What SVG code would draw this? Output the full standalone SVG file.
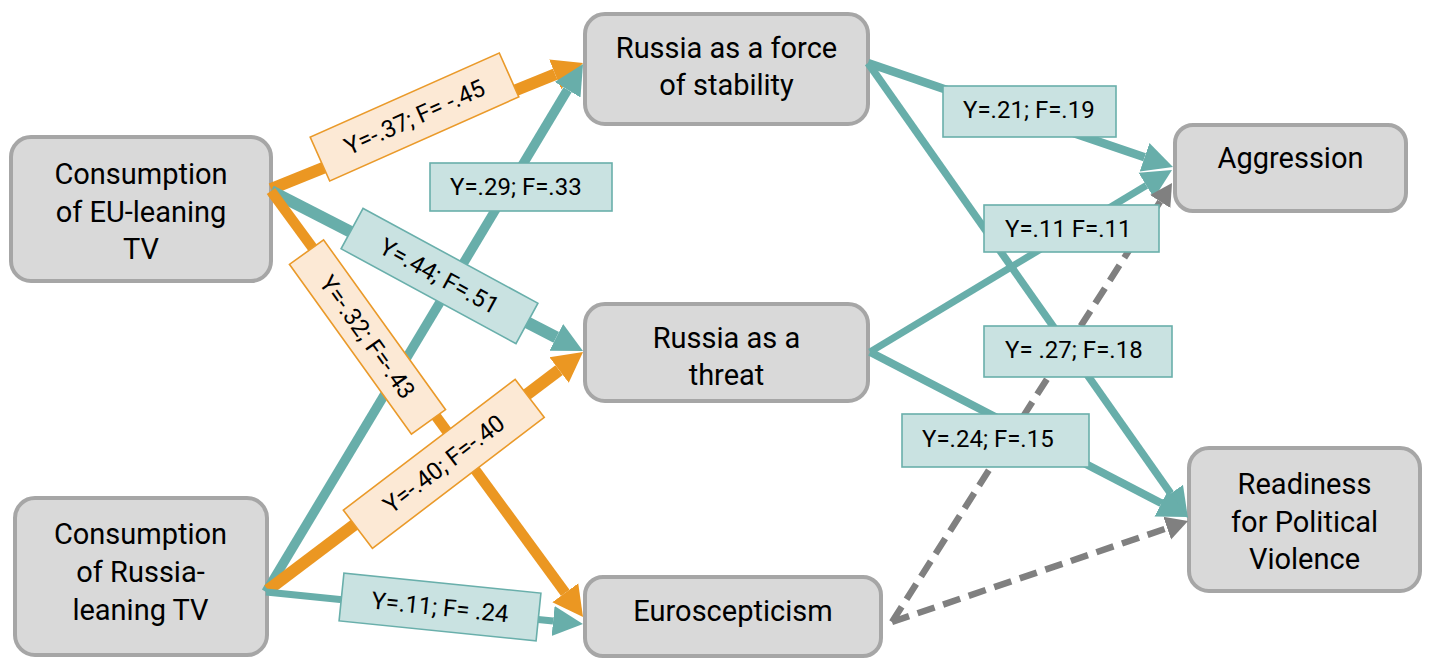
<svg xmlns="http://www.w3.org/2000/svg" width="1431" height="660" viewBox="0 0 1431 660">
  <style>
    .node rect { fill: #d9d9d9; stroke: #a6a6a6; stroke-width: 4; }
    .node text { font-family: Roboto, "Liberation Sans", sans-serif; font-size: 29px; fill: #000; text-anchor: middle; }
    .lbl text { font-family: Roboto, "Liberation Sans", sans-serif; font-size: 24px; fill: #000; }
    .lbl .c { text-anchor: middle; }
    .lo rect { fill: #fce9d5; stroke: #ea9a2a; stroke-width: 1.6; }
    .lt rect { fill: #c9e2e1; stroke: #69afab; stroke-width: 1.6; }
    .or { stroke: #eb9722; fill: none; marker-end: url(#ahO); }
    .te { stroke: #68aeaa; fill: none; marker-end: url(#ahT); }
    .gr { stroke: #808080; fill: none; stroke-width: 6.5; stroke-dasharray: 18 9; marker-end: url(#ahG); }
  </style>
  <defs>
    <marker id="ahO" markerUnits="userSpaceOnUse" markerWidth="34" markerHeight="34" refX="0" refY="17" orient="auto">
      <path d="M0,1 L30,17 L0,33 z" fill="#eb9722"/>
    </marker>
    <marker id="ahT" markerUnits="userSpaceOnUse" markerWidth="34" markerHeight="34" refX="0" refY="17" orient="auto">
      <path d="M0,2 L30,17 L0,32 z" fill="#68aeaa"/>
    </marker>
    <marker id="ahG" markerUnits="userSpaceOnUse" markerWidth="26" markerHeight="26" refX="0" refY="13" orient="auto">
      <path d="M0,1 L22,13 L0,25 z" fill="#808080"/>
    </marker>
  </defs>

  <!-- nodes -->
  <g id="eu-tv" class="node">
    <rect x="11" y="137" width="260" height="144" rx="20"/>
    <text x="141" y="184">Consumption</text>
    <text x="141" y="221.5">of EU-leaning</text>
    <text x="141" y="259">TV</text>
  </g>
  <g id="ru-tv" class="node">
    <rect x="15" y="498" width="252" height="157" rx="20"/>
    <text x="140.5" y="544">Consumption</text>
    <text x="140.5" y="582">of Russia-</text>
    <text x="140.5" y="620">leaning TV</text>
  </g>
  <g id="stability" class="node">
    <rect x="585" y="14" width="283" height="110" rx="20"/>
    <text x="726.5" y="58">Russia as a force</text>
    <text x="726.5" y="95">of stability</text>
  </g>
  <g id="threat" class="node">
    <rect x="585" y="304" width="283" height="97" rx="20"/>
    <text x="726.5" y="348">Russia as a</text>
    <text x="726.5" y="385">threat</text>
  </g>
  <g id="euroscepticism" class="node">
    <rect x="585" y="577" width="296" height="79" rx="18"/>
    <text x="733" y="621">Euroscepticism</text>
  </g>
  <g id="aggression" class="node">
    <rect x="1175" y="125" width="231" height="86" rx="18"/>
    <text x="1290.5" y="168">Aggression</text>
  </g>
  <g id="readiness" class="node">
    <rect x="1189" y="448" width="231" height="143" rx="20"/>
    <text x="1304.5" y="494">Readiness</text>
    <text x="1304.5" y="532">for Political</text>
    <text x="1304.5" y="569">Violence</text>
  </g>

  <!-- connectors -->
  <g id="connectors">
    <line class="or" x1="271" y1="189" x2="555.2" y2="74.3" stroke-width="12"/>
    <line class="te" x1="271" y1="191" x2="556.3" y2="337.3" stroke-width="12"/>
    <line class="or" x1="271" y1="191" x2="565.3" y2="592.8" stroke-width="10.5"/>
    <line class="te" x1="266" y1="592" x2="567.6" y2="89.7" stroke-width="9.5"/>
    <line class="or" x1="268" y1="590" x2="559.1" y2="370.1" stroke-width="12"/>
    <line class="te" x1="266" y1="592" x2="553.1" y2="621" stroke-width="7"/>
    <line class="te" x1="868" y1="63" x2="1144.6" y2="157.3" stroke-width="8.5"/>
    <line class="te" x1="868" y1="63" x2="1170.7" y2="493.5" stroke-width="7.5"/>
    <line class="te" x1="870" y1="352" x2="1146.3" y2="185.5" stroke-width="7"/>
    <line class="te" x1="870" y1="352" x2="1161.4" y2="503.2" stroke-width="8"/>
    <line class="gr" x1="892" y1="622" x2="1160.2" y2="201.5"/>
    <line class="gr" x1="892" y1="622" x2="1167.2" y2="528.1"/>

    <!-- coefficient labels -->
    <g class="lbl lo" transform="translate(414.5 117) rotate(-24)">
      <rect x="-103.5" y="-24" width="207" height="48"/>
      <text class="c" x="0" y="8.5">Y=-.37; F= -.45</text>
    </g>
    <g class="lbl lt">
      <rect x="430" y="163" width="182" height="48"/>
      <text x="450" y="195">Y=.29; F=.33</text>
    </g>
    <g class="lbl lt" transform="translate(439.5 276) rotate(28.5)">
      <rect x="-99.5" y="-23" width="199" height="46"/>
      <text class="c" x="0" y="8.5">Y=.44; F=.51</text>
    </g>
    <g class="lbl lo" transform="translate(367.5 337) rotate(54.3)">
      <rect x="-104.5" y="-21" width="209" height="42"/>
      <text class="c" x="0" y="8.5">Y=-.32; F=-.43</text>
    </g>
    <g class="lbl lo" transform="translate(443.8 463.8) rotate(-37.3)">
      <rect x="-108" y="-24" width="216" height="48"/>
      <text class="c" x="0" y="8.5">Y=-.40; F=-.40</text>
    </g>
    <g class="lbl lt" transform="translate(440 607) rotate(5.8)">
      <rect x="-99" y="-24" width="198" height="48"/>
      <text class="c" x="0" y="8.5">Y=.11; F= .24</text>
    </g>
    <g class="lbl lt">
      <rect x="943" y="86" width="173" height="51"/>
      <text x="963" y="118">Y=.21; F=.19</text>
    </g>
    <g class="lbl lt">
      <rect x="984" y="205" width="175" height="47"/>
      <text x="1005" y="237">Y=.11 F=.11</text>
    </g>
    <g class="lbl lt">
      <rect x="984" y="326" width="188" height="51"/>
      <text x="1005" y="358">Y= .27; F=.18</text>
    </g>
    <g class="lbl lt">
      <rect x="902" y="414" width="187" height="53"/>
      <text x="922" y="447">Y=.24; F=.15</text>
    </g>
  </g>
</svg>
